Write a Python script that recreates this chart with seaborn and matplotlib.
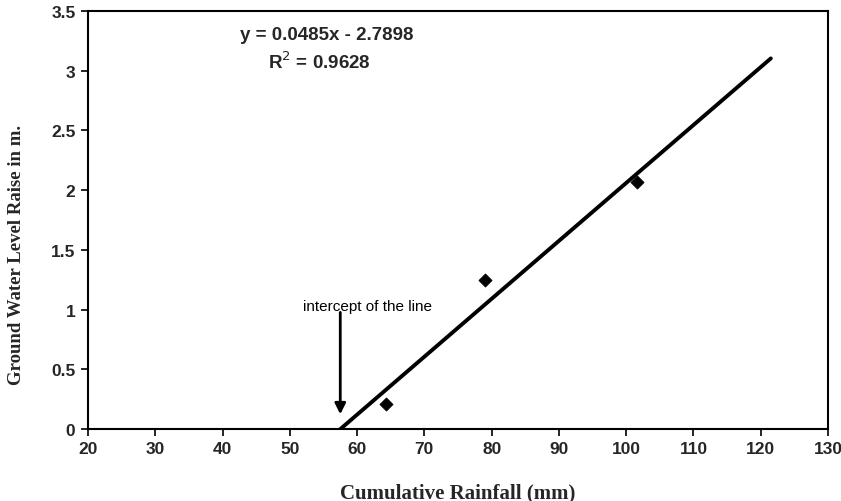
import matplotlib
matplotlib.use("Agg")
import matplotlib.pyplot as plt
import seaborn as sns
import numpy as np
import pandas as pd

# Data
rainfall = [64.3, 79.0, 101.6]
gw_raise = [0.21, 1.25, 2.07]
slope = 0.0485
intercept = -2.7898
r2 = 0.9628
line_x = [57.5, 121.5]
xticks = [20, 30, 40, 50, 60, 70, 80, 90, 100, 110, 120, 130]
yticks = [0, 0.5, 1, 1.5, 2, 2.5, 3, 3.5]
ytick_labels = ["0", "0.5", "1", "1.5", "2", "2.5", "3", "3.5"]

sns.set_style("white")
plt.rcParams['font.family'] = ['Liberation Sans', 'DejaVu Sans']

fig = plt.figure(figsize=(8.41, 5.02), dpi=100)
ax = fig.add_axes([88/841, 1-430/502, (828-88)/841, (430-12)/502])

pts = pd.DataFrame({"x": rainfall, "y": gw_raise})
sns.scatterplot(data=pts, x="x", y="y", marker="D", s=45, color="black",
                edgecolor="black", ax=ax, zorder=3)

lx = np.array(line_x)
line = pd.DataFrame({"x": lx, "y": slope * lx + intercept})
sns.lineplot(data=line, x="x", y="y", color="black", linewidth=2.8, ax=ax)

ax.set_xlim(20, 130)
ax.set_ylim(0, 3.5)
ax.set_xticks(xticks)
ax.set_yticks(yticks)
ax.set_yticklabels(ytick_labels)
for lab in ax.get_xticklabels() + ax.get_yticklabels():
    lab.set_fontweight("bold")
    lab.set_fontsize(12.5)
ax.tick_params(axis="both", direction="out", length=5, width=1.2, color="black",
               bottom=True, left=True, pad=4)

for sp in ax.spines.values():
    sp.set_color("black")
    sp.set_linewidth(1.5)
    sp.set_visible(True)

ax.set_xlabel("Cumulative Rainfall (mm)", fontfamily="Liberation Serif",
              fontweight="bold", fontsize=15)
ax.set_ylabel("Ground Water Level Raise in m.", fontfamily="Liberation Serif",
              fontweight="bold", fontsize=13.5)
ax.xaxis.set_label_coords(0.5, -0.128)
ax.yaxis.set_label_coords(-0.085, 0.42)

ax.text(0.323, 0.9426, f"y = {slope}x - {abs(intercept)}", transform=ax.transAxes,
        ha="center", va="center", fontsize=13.5, fontweight="bold")
ax.text(0.313, 0.880, f"R$^{{2}}$ = {r2}", transform=ax.transAxes,
        ha="center", va="center", fontsize=13.5, fontweight="bold")

ax.annotate("", xy=(57.5, 0.1), xytext=(57.5, 1.0),
            arrowprops=dict(arrowstyle="-|>", color="black", lw=2,
                            mutation_scale=16))
ax.text(61.55, 1.03, "intercept of the line", ha="center", va="center",
        fontsize=11, color="black")

fig.savefig("out.png", dpi=100, facecolor="white")
